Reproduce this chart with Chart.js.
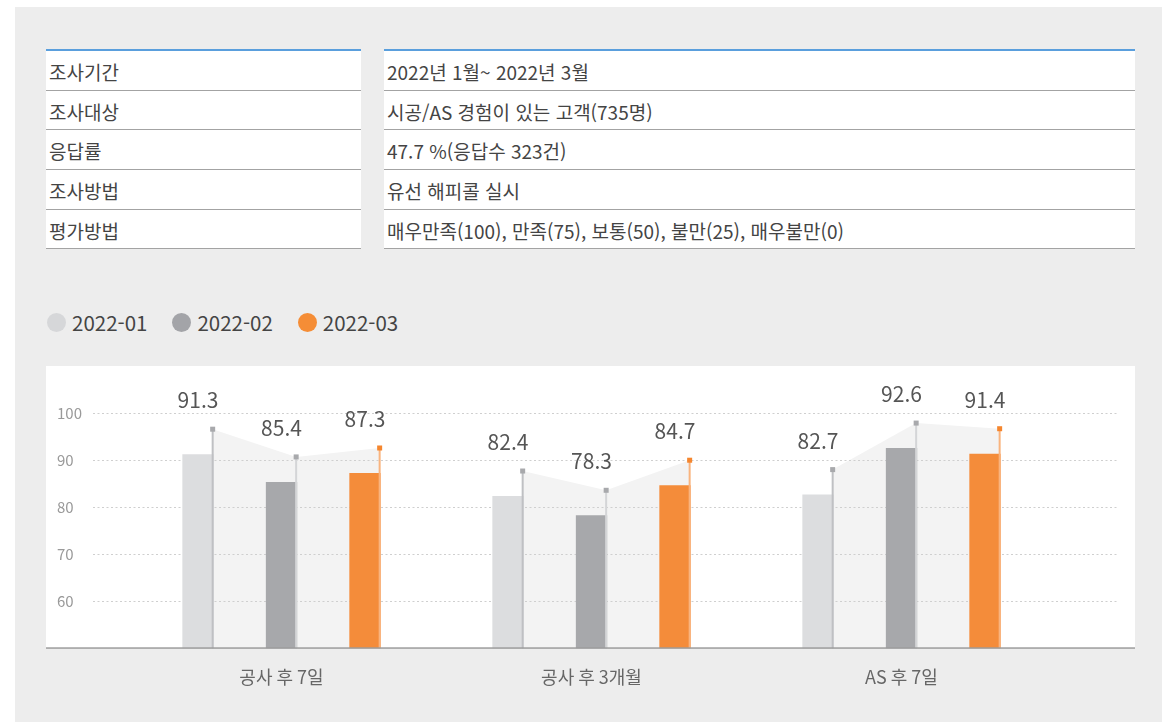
<!DOCTYPE html>
<html lang="ko">
<head>
  <meta charset="UTF-8" />
  <title>고객만족도 조사</title>
  <script src="https://cdn.jsdelivr.net/npm/chart.js"></script>
  <style>
    body { margin: 0; background: #fff; font-family: "Noto Sans CJK KR", "Noto Sans", sans-serif; }
    #panel { position: absolute; left: 15px; top: 7px; width: 1147px; height: 715px; background: #ededed; }
    .col { position: absolute; top: 49px; border-top: 2px solid #5a9fdd; }
    .row { height: 38.7px; border-bottom: 1px solid #a3a3a3; background: #fff; color: #444;
           font-size: 19px; line-height: 41px; padding-left: 3px; box-sizing: content-box; white-space: nowrap; }
    #legend { position: absolute; left: 47px; top: 307px; display: flex; align-items: center; font-size: 20.5px; color: #444; }
    .item { display: flex; align-items: center; margin-right: 25px; }
    .dot { width: 19px; height: 19px; border-radius: 50%; margin-right: 6px; }
    #chartBox { position: absolute; left: 46px; top: 366px; width: 1090px; height: 340px; }
  </style>
</head>
<body>
  <div id="panel"></div>
  <div class="col" id="colLeft" style="left:46px;width:315px"></div>
  <div class="col" id="colRight" style="left:384px;width:751px"></div>
  <div id="legend"></div>
  <div id="chartBox"><canvas id="chart"></canvas></div>

  <script>
    // survey info table
    const infoLabels = ["조사기간", "조사대상", "응답률", "조사방법", "평가방법"];
    const infoValues = [
      "2022년 1월~ 2022년 3월",
      "시공/AS 경험이 있는 고객(735명)",
      "47.7 %(응답수 323건)",
      "유선 해피콜 실시",
      "매우만족(100), 만족(75), 보통(50), 불만(25), 매우불만(0)"
    ];

    // chart data
    const categories = ["공사 후 7일", "공사 후 3개월", "AS 후 7일"];
    const seriesNames = ["2022-01", "2022-02", "2022-03"];
    const jan = [91.3, 82.4, 82.7];
    const feb = [85.4, 78.3, 92.6];
    const mar = [87.3, 84.7, 91.4];
    const yTicks = [60, 70, 80, 90, 100];

    const barColors = ["#dcdddf", "#a7a8ab", "#f48c3a"];
    const lineColors = ["#bfc0c3", "#d4d5d7", "#f9b47e"];
    const markColors = ["#a8a9ac", "#a8a9ac", "#f5862e"];
    const legendColors = ["#d6d7d9", "#a3a4a8", "#f58d36"];

    infoLabels.forEach(t => {
      document.getElementById("colLeft").insertAdjacentHTML("beforeend", `<div class="row">${t}</div>`);
    });
    infoValues.forEach(t => {
      document.getElementById("colRight").insertAdjacentHTML("beforeend", `<div class="row">${t}</div>`);
    });
    seriesNames.forEach((n, i) => {
      document.getElementById("legend").insertAdjacentHTML("beforeend",
        `<div class="item"><span class="dot" style="background:${legendColors[i]}"></span>${n}</div>`);
    });

    const LIFT = 25; // marker sits this far above the bar top

    const decorPlugin = {
      id: "decor",
      beforeDraw(chart) {
        const ctx = chart.ctx;
        const base = chart.scales.y.getPixelForValue(50);
        ctx.save();
        ctx.fillStyle = "#fff";
        ctx.fillRect(0, 0, chart.width - 1, base);
        ctx.restore();
      },
      beforeDatasetsDraw(chart) {
        const ctx = chart.ctx;
        const y = chart.scales.y;
        const base = y.getPixelForValue(50);
        const metas = chart.data.datasets.map((d, i) => chart.getDatasetMeta(i));
        ctx.save();
        // shaded area joining the markers
        categories.forEach((c, ci) => {
          const pts = metas.map(m => {
            const b = m.data[ci];
            return [b.x + b.width / 2 - 1, b.y - LIFT];
          });
          ctx.beginPath();
          ctx.moveTo(pts[0][0], base);
          pts.forEach(p => ctx.lineTo(p[0], p[1]));
          ctx.lineTo(pts[pts.length - 1][0], base);
          ctx.closePath();
          ctx.fillStyle = "#f3f3f3";
          ctx.fill();
        });
        // dotted grid
        ctx.strokeStyle = "#cfcfcf";
        ctx.lineWidth = 1;
        ctx.setLineDash([2, 2.5]);
        yTicks.forEach(v => {
          const py = Math.round(y.getPixelForValue(v)) + 0.5;
          ctx.beginPath();
          ctx.moveTo(47, py);
          ctx.lineTo(1071, py);
          ctx.stroke();
        });
        ctx.restore();
      },
      afterDatasetsDraw(chart) {
        const ctx = chart.ctx;
        const base = chart.scales.y.getPixelForValue(50);
        ctx.save();
        chart.data.datasets.forEach((ds, di) => {
          const meta = chart.getDatasetMeta(di);
          meta.data.forEach((b, ci) => {
            const lx = b.x + b.width / 2 - 1;
            const my = b.y - LIFT;
            ctx.fillStyle = lineColors[di];
            ctx.fillRect(lx - 1, my, 2, base - my);
            ctx.fillStyle = markColors[di];
            ctx.fillRect(lx - 2.5, my - 2.5, 5, 5);
            ctx.fillStyle = "#555";
            ctx.font = '21px "Noto Sans CJK KR"';
            ctx.textAlign = "center";
            ctx.textBaseline = "middle";
            ctx.fillText(ds.data[ci].toFixed(1), b.x, my - 29);
          });
        });
        ctx.fillStyle = "#9c9c9c";
        ctx.fillRect(0, base - 1, chart.width - 1, 1.5);
        ctx.restore();
      }
    };

    new Chart(document.getElementById("chart"), {
      type: "bar",
      data: {
        labels: categories,
        datasets: [jan, feb, mar].map((d, i) => ({
          label: seriesNames[i],
          data: d,
          backgroundColor: barColors[i],
          categoryPercentage: 0.808,
          barPercentage: 0.375
        }))
      },
      options: {
        responsive: true,
        maintainAspectRatio: false,
        animation: false,
        layout: { padding: { top: 47.3, left: 11, right: 79.5, bottom: 0 } },
        plugins: { legend: { display: false }, tooltip: { enabled: false } },
        scales: {
          x: {
            grid: { display: false, drawTicks: false },
            border: { display: false },
            ticks: { color: "#666", padding: 18, font: { family: "Noto Sans CJK KR", size: 18 } },
            afterFit(s) { s.height = 57.7; }
          },
          y: {
            min: 50,
            max: 100,
            grid: { display: false, drawTicks: false },
            border: { display: false },
            ticks: {
              stepSize: 10,
              crossAlign: "far",
              color: "#9a9a9a",
              font: { family: "Noto Sans CJK KR", size: 15 },
              callback: v => (yTicks.includes(v) ? v : "")
            },
            afterFit(s) { s.width = 69.5; }
          }
        }
      },
      plugins: [decorPlugin]
    });
  </script>
</body>
</html>
